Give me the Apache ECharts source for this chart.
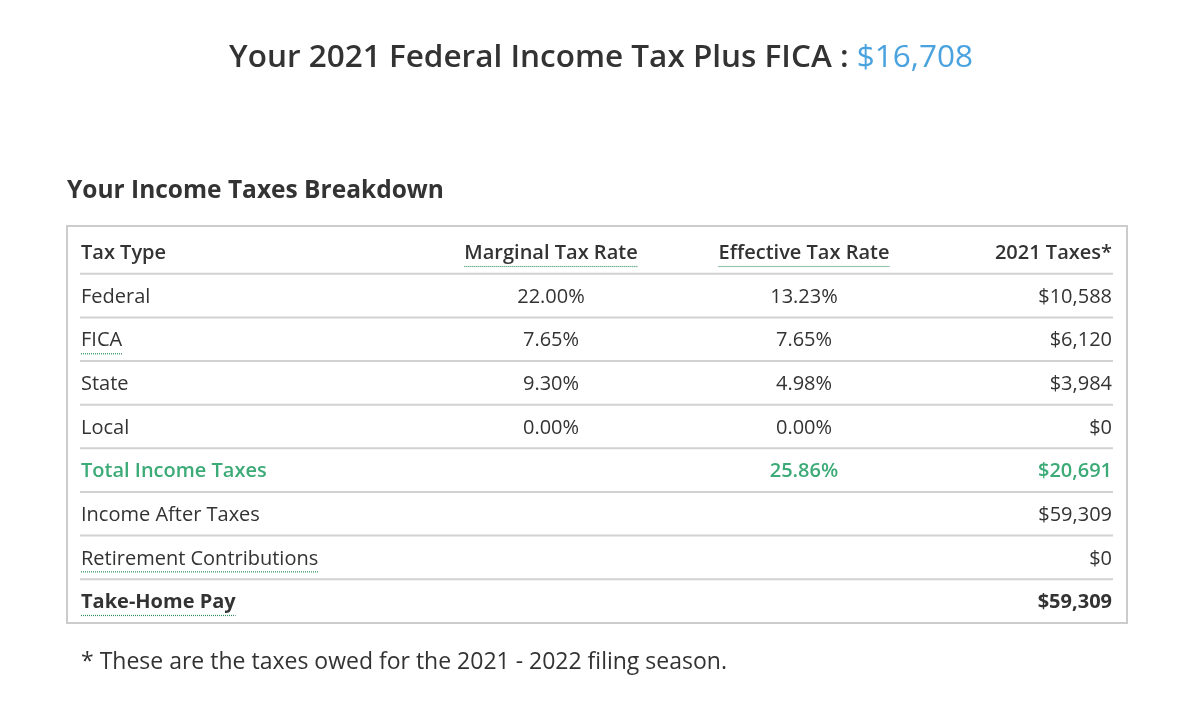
<!DOCTYPE html>
<html><head><meta charset="utf-8">
<script src="https://cdn.jsdelivr.net/npm/echarts@6/dist/echarts.min.js"></script>
<style>html,body{margin:0;padding:0;background:#fff}#c{width:1200px;height:711px}</style>
</head><body><div id="c"></div>
<script>
// ---- data ----
const titleMain = 'Your 2021 Federal Income Tax Plus FICA : ';
const titleAmount = 16708;
const subtitle = 'Your Income Taxes Breakdown';
const headers = ['Tax Type', 'Marginal Tax Rate', 'Effective Tax Rate', '2021 Taxes*'];
const rowLabels = ['Federal', 'FICA', 'State', 'Local', 'Total Income Taxes', 'Income After Taxes', 'Retirement Contributions', 'Take-Home Pay'];
const marginalRates = [22.00, 7.65, 9.30, 0.00, null, null, null, null];
const effectiveRates = [13.23, 7.65, 4.98, 0.00, 25.86, null, null, null];
const taxes = [10588, 6120, 3984, 0, 20691, 59309, 0, 59309];
const footnote = '* These are the taxes owed for the 2021 - 2022 filing season.';

// ---- styles ----
const FONT = '"Open Sans", Lato, sans-serif';
const TEXT = '#333333';
const GREEN = '#3dab77';
const BLUE = '#4aa3df';
const DOT = '#2f8f5f';
const underlinedRows = ['FICA', 'Retirement Contributions', 'Take-Home Pay'];
const underlinedHeaders = ['Marginal Tax Rate', 'Effective Tax Rate'];

const ctx = document.createElement('canvas').getContext('2d');
function measure(t, size, weight) { ctx.font = weight + ' ' + size + 'px ' + FONT; return ctx.measureText(t).width; }
const pct = v => v == null ? '' : v.toFixed(2) + '%';
const usd = v => v == null ? '' : '$' + v.toLocaleString('en-US');

const yCats = ['header'].concat(rowLabels);
const GL = 67, GW = 1060;
const colX = [14, 484, 737, 1045];
const colAlign = ['left', 'center', 'center', 'right'];

function renderItem(params, api) {
  const i = params.dataIndex;
  const cy = api.coord([0, i])[1];
  const ty = cy + 1.5;
  const children = [];
  let cells, color = TEXT, weight = 400, size = 20;
  if (i === 0) {
    cells = headers; weight = 600;
  } else {
    const r = i - 1;
    cells = [rowLabels[r], pct(marginalRates[r]), pct(effectiveRates[r]), usd(taxes[r])];
    if (rowLabels[r] === 'Total Income Taxes') { color = GREEN; weight = 600; }
    if (rowLabels[r] === 'Take-Home Pay') { weight = 700; }
  }
  cells.forEach((t, c) => {
    if (!t) return;
    const x = api.coord([colX[c], i])[0];
    children.push({
      type: 'text',
      style: { text: t, x: x, y: ty, fill: color, fontSize: size, fontWeight: weight, fontFamily: FONT, align: colAlign[c], verticalAlign: 'middle' }
    });
    const ul = (i === 0 && underlinedHeaders.includes(t)) || (i > 0 && c === 0 && underlinedRows.includes(t));
    if (ul) {
      const w = measure(t, size, weight);
      const x1 = colAlign[c] === 'left' ? x : colAlign[c] === 'center' ? x - w / 2 : x - w;
      children.push({
        type: 'line',
        shape: { x1: x1, y1: cy + 14.5, x2: x1 + w, y2: cy + 14.5 },
        style: { stroke: DOT, lineWidth: 1.2, lineDash: [1, 1] }
      });
    }
  });
  if (i < yCats.length - 1) {
    const a = api.coord([13, i]), b = api.coord([1046, i]);
    const half = api.size([0, 1])[1] / 2;
    children.push({
      type: 'line',
      shape: { x1: a[0], y1: cy + half, x2: b[0], y2: cy + half },
      style: { stroke: '#d2d2d2', lineWidth: 2 }
    });
  }
  return { type: 'group', children: children };
}

const TS = 31.5;
const titleW = measure(titleMain, TS, 600) + measure(usd(titleAmount), TS, 400);

const chart = echarts.init(document.getElementById('c'), null, { renderer: 'canvas' });
chart.setOption({
  backgroundColor: '#fff',
  animation: false,
  title: [{
    text: '{a|' + titleMain + '}{b|' + usd(titleAmount) + '}',
    left: 596 - titleW / 2, top: 37,
    textStyle: { rich: {
      a: { fontSize: TS, fontWeight: 600, fontFamily: FONT, color: TEXT },
      b: { fontSize: TS, fontWeight: 400, fontFamily: FONT, color: BLUE }
    } }
  }],
  graphic: [
    { type: 'text', left: 67, top: 179, style: { text: subtitle, fontSize: 24.5, fontWeight: 700, fontFamily: FONT, fill: TEXT } },
    { type: 'rect', shape: { x: 67, y: 226, width: 1060, height: 397 }, style: { fill: 'none', stroke: '#cccccc', lineWidth: 2 } },
    { type: 'text', left: 81, top: 651, style: { text: footnote, fontSize: 23, fontWeight: 400, fontFamily: FONT, fill: TEXT } }
  ],
  grid: { left: GL, width: GW, top: 230.2, height: 392.6 },
  xAxis: { type: 'value', min: 0, max: GW, show: false },
  yAxis: { type: 'category', data: yCats, inverse: true, show: false },
  series: [{
    type: 'custom',
    renderItem: renderItem,
    data: yCats.map((_, i) => [0, i]),
    encode: { x: 0, y: 1 },
    clip: false
  }]
});
</script></body></html>
